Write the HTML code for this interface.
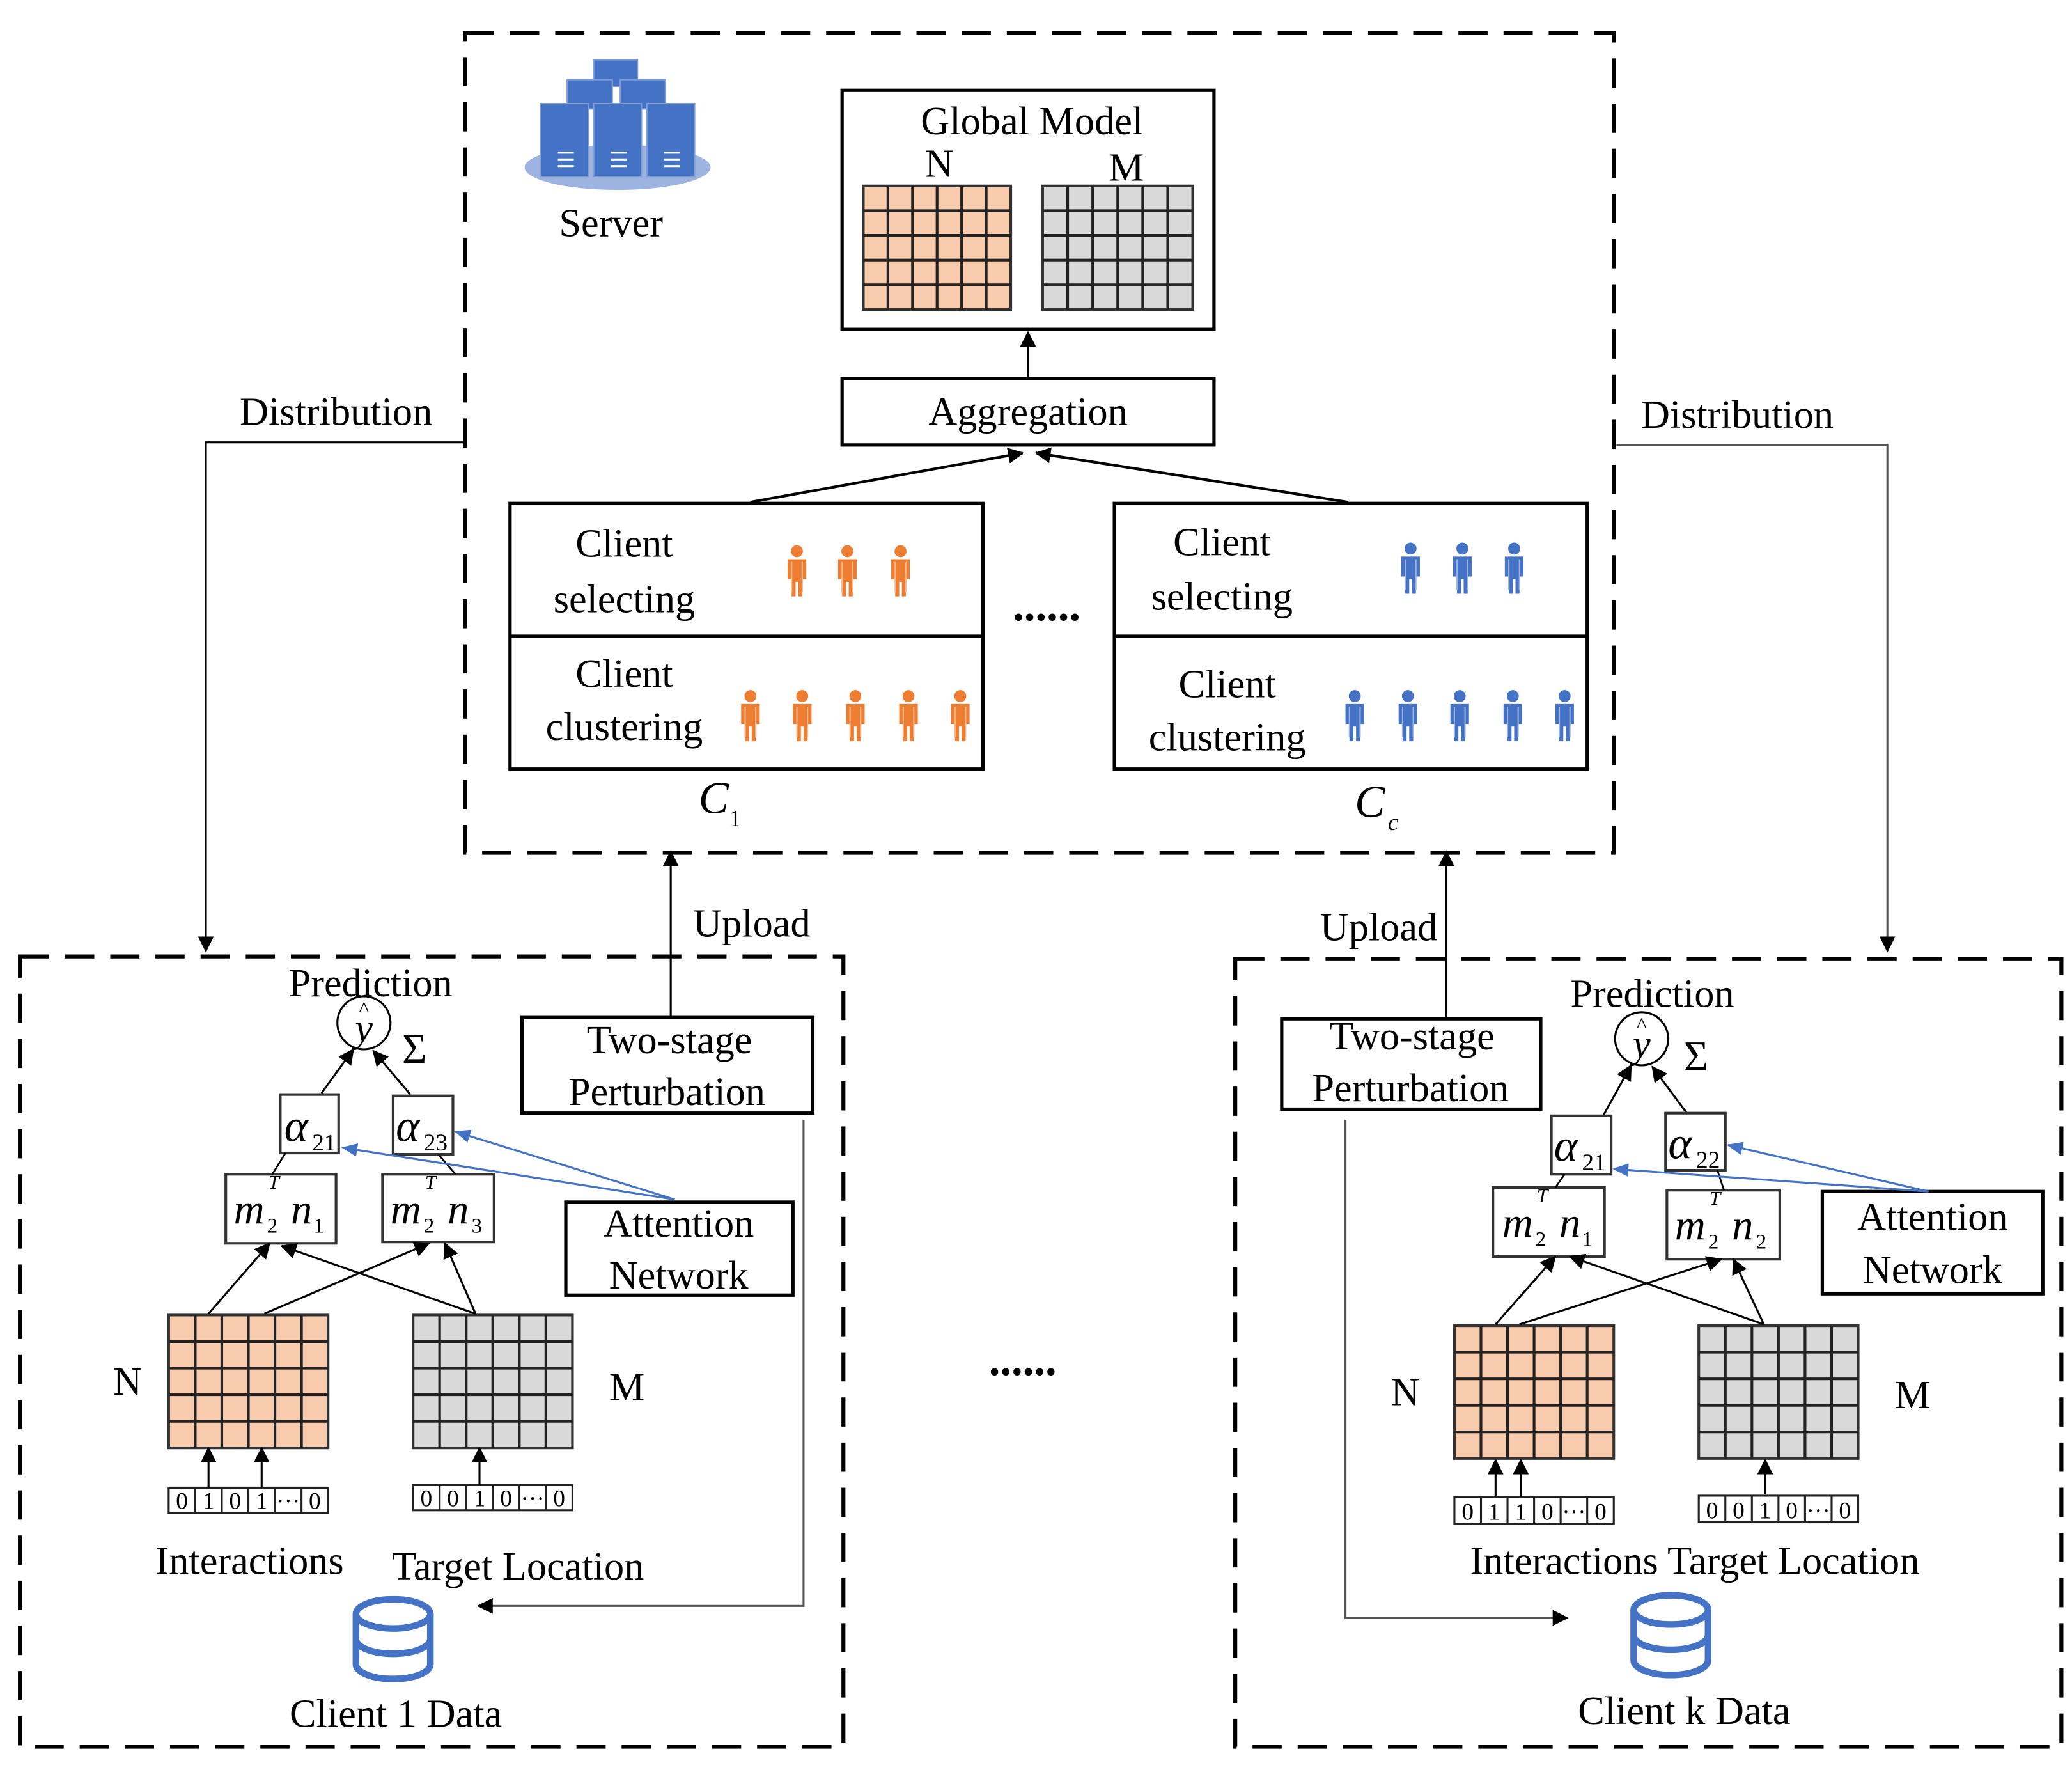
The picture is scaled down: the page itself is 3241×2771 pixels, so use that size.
<!DOCTYPE html>
<html><head><meta charset="utf-8">
<style>
html,body{margin:0;padding:0;background:#fff;}
svg{display:block;}
text{font-family:"Liberation Serif",serif;fill:#000;}
</style></head>
<body>
<svg id="s" width="3241" height="2771" viewBox="0 0 1560 1334" preserveAspectRatio="none" xmlns="http://www.w3.org/2000/svg">
<defs>
<marker id="ak" markerWidth="10" markerHeight="10" refX="9" refY="5" orient="auto" markerUnits="userSpaceOnUse"><path d="M0,0 L10,5 L0,10 Z" fill="#000"/></marker>
<marker id="ab" markerWidth="12" markerHeight="10" refX="11" refY="5" orient="auto" markerUnits="userSpaceOnUse"><path d="M0,0 L12,5 L0,10 Z" fill="#4472C4"/></marker>
<marker id="ag" markerWidth="12" markerHeight="12" refX="11" refY="6" orient="auto" markerUnits="userSpaceOnUse"><path d="M0,0 L12,6 L0,12 Z" fill="#000"/></marker>
<g id="pO"><circle cx="0" cy="-17" r="4.5" fill="#ED7D31"/><path d="M-7,-11 H7 V4 H4 V17 H1 V6 H-1 V17 H-4 V4 H-7 Z" fill="#ED7D31"/><path d="M-4,-9 V14 M4,-9 V14" stroke="#f6b98f" stroke-width="1"/></g>
<g id="pB"><circle cx="0" cy="-17" r="4.5" fill="#4472C4"/><path d="M-7,-11 H7 V4 H4 V17 H1 V6 H-1 V17 H-4 V4 H-7 Z" fill="#4472C4"/><path d="M-4,-9 V14 M4,-9 V14" stroke="#9db4e0" stroke-width="1"/></g>
</defs>

<g fill="none" stroke="#000" stroke-width="3" stroke-dasharray="22 12">
<rect x="350" y="25" width="865" height="617"/>
<rect x="15" y="720" width="620" height="595"/>
<rect x="930" y="722" width="622" height="593"/>
</g>

<!-- server icon -->
<ellipse cx="465" cy="126" rx="70" ry="17" fill="#9db4e0"/>
<g fill="#4472C4" stroke="#7f9fd6" stroke-width="1">
<rect x="447" y="45" width="33" height="20"/>
<rect x="427" y="60" width="34" height="22"/><rect x="467" y="60" width="34" height="22"/>
<rect x="407" y="78" width="36" height="55"/><rect x="447" y="78" width="36" height="55"/><rect x="487" y="78" width="36" height="55"/>
</g>
<g stroke="#fff" stroke-width="1.5">
<path d="M420,115 h12 M420,120 h12 M420,125 h12 M460,115 h12 M460,120 h12 M460,125 h12 M500,115 h12 M500,120 h12 M500,125 h12"/>
</g>
<text x="460" y="178" font-size="30" text-anchor="middle">Server</text>

<rect x="634" y="68" width="280" height="180" fill="none" stroke="#000" stroke-width="2.5"/>
<text x="777" y="101" font-size="30" text-anchor="middle">Global Model</text>
<text x="707" y="133" font-size="30" text-anchor="middle">N</text>
<text x="848" y="136" font-size="30" text-anchor="middle">M</text>
<g id="grids"></g>

<line x1="774" y1="285" x2="774" y2="250" stroke="#000" stroke-width="1.5" marker-end="url(#ag)"/>
<rect x="634" y="285" width="280" height="50" fill="none" stroke="#000" stroke-width="2.5"/>
<text x="774" y="320" font-size="30" text-anchor="middle">Aggregation</text>
<line x1="565" y1="378" x2="770" y2="341" stroke="#000" stroke-width="2" marker-end="url(#ag)"/>
<line x1="1015" y1="378" x2="780" y2="341" stroke="#000" stroke-width="2" marker-end="url(#ag)"/>

<g fill="none" stroke="#000" stroke-width="2.5">
<rect x="384" y="379" width="356" height="200"/><line x1="384" y1="479" x2="740" y2="479"/>
<rect x="839" y="379" width="356" height="200"/><line x1="839" y1="479" x2="1195" y2="479"/>
</g>
<g font-size="30" text-anchor="middle">
<text x="470" y="419">Client</text><text x="470" y="461">selecting</text>
<text x="470" y="517">Client</text><text x="470" y="557">clustering</text>
<text x="920" y="418">Client</text><text x="920" y="459">selecting</text>
<text x="924" y="525">Client</text><text x="924" y="565">clustering</text>
</g>
<use href="#pO" x="600" y="432"/><use href="#pO" x="638" y="432"/><use href="#pO" x="678" y="432"/>
<use href="#pO" x="565" y="541"/><use href="#pO" x="604" y="541"/><use href="#pO" x="644" y="541"/><use href="#pO" x="684" y="541"/><use href="#pO" x="723" y="541"/>
<use href="#pB" x="1062" y="430"/><use href="#pB" x="1101" y="430"/><use href="#pB" x="1140" y="430"/>
<use href="#pB" x="1020" y="541"/><use href="#pB" x="1060" y="541"/><use href="#pB" x="1099" y="541"/><use href="#pB" x="1139" y="541"/><use href="#pB" x="1178" y="541"/>
<text x="788" y="467" font-size="34" text-anchor="middle" font-weight="bold">......</text>
<text x="526" y="612" font-size="34" font-style="italic">C</text><text x="549" y="622" font-size="18">1</text>
<text x="1020" y="615" font-size="34" font-style="italic">C</text><text x="1045" y="625" font-size="18" font-style="italic">c</text>

<!-- distribution -->
<text x="253" y="320" font-size="30" text-anchor="middle">Distribution</text>
<polyline points="350,333 155,333 155,716" fill="none" stroke="#000" stroke-width="1.5" marker-end="url(#ag)"/>
<text x="1308" y="322" font-size="30" text-anchor="middle">Distribution</text>
<polyline points="1217,335 1421,335 1421,716" fill="none" stroke="#555" stroke-width="1.5" marker-end="url(#ag)"/>
<!-- upload -->
<line x1="505" y1="766" x2="505" y2="641" stroke="#000" stroke-width="1.5" marker-end="url(#ag)"/>
<text x="566" y="705" font-size="30" text-anchor="middle">Upload</text>
<line x1="1089" y1="766" x2="1089" y2="641" stroke="#000" stroke-width="1.5" marker-end="url(#ag)"/>
<text x="1038" y="708" font-size="30" text-anchor="middle">Upload</text>

<text x="770" y="1035" font-size="34" text-anchor="middle" font-weight="bold">......</text>

<!-- LEFT CLIENT -->
<text x="279" y="750" font-size="30" text-anchor="middle">Prediction</text>
<circle cx="274" cy="770" r="20" fill="none" stroke="#000" stroke-width="1.5"/>
<text x="274" y="784" font-size="30" font-style="italic" text-anchor="middle">y</text><text x="274" y="765" font-size="16" text-anchor="middle">^</text>
<text x="312" y="800" font-size="32" text-anchor="middle">Σ</text>
<line x1="242" y1="823" x2="266" y2="790" stroke="#000" stroke-width="1.5" marker-end="url(#ag)"/>
<line x1="309" y1="824" x2="281" y2="791" stroke="#000" stroke-width="1.5" marker-end="url(#ag)"/>
<g fill="none" stroke="#333" stroke-width="2">
<rect x="211" y="824" width="44" height="44"/><rect x="296" y="825" width="45" height="44"/>
<rect x="170" y="884" width="83" height="52"/><rect x="288" y="884" width="84" height="51"/>
<rect x="426" y="905" width="171" height="70" stroke="#000" stroke-width="2.5"/>
<rect x="393" y="766" width="219" height="72" stroke="#000" stroke-width="2.5"/>
</g>
<line x1="215" y1="868" x2="205" y2="884" stroke="#000" stroke-width="1.3"/>
<line x1="330" y1="869" x2="343" y2="884" stroke="#000" stroke-width="1.3"/>
<g font-style="italic">
<text x="214" y="859" font-size="34">α</text><text x="235" y="866" font-size="18" font-style="normal">21</text>
<text x="298" y="859" font-size="34">α</text><text x="319" y="866" font-size="18" font-style="normal">23</text>
<text x="176" y="921" font-size="32">m</text><text x="202" y="895" font-size="15">T</text><text x="201" y="928" font-size="16" font-style="normal">2</text><text x="219" y="921" font-size="32">n</text><text x="236" y="928" font-size="16" font-style="normal">1</text>
<text x="294" y="921" font-size="32">m</text><text x="320" y="895" font-size="15">T</text><text x="319" y="928" font-size="16" font-style="normal">2</text><text x="337" y="921" font-size="32">n</text><text x="355" y="928" font-size="16" font-style="normal">3</text>
</g>
<text x="511" y="931" font-size="30" text-anchor="middle">Attention</text>
<text x="511" y="970" font-size="30" text-anchor="middle">Network</text>
<text x="504" y="793" font-size="30" text-anchor="middle">Two-stage</text>
<text x="502" y="832" font-size="30" text-anchor="middle">Perturbation</text>
<line x1="508" y1="903" x2="343" y2="852" stroke="#4472C4" stroke-width="1.5" marker-end="url(#ab)"/>
<line x1="508" y1="903" x2="258" y2="864" stroke="#4472C4" stroke-width="1.5" marker-end="url(#ab)"/>
<g stroke="#000" stroke-width="1.5">
<line x1="157" y1="989" x2="203" y2="936" marker-end="url(#ag)"/>
<line x1="199" y1="989" x2="323" y2="936" marker-end="url(#ag)"/>
<line x1="358" y1="989" x2="212" y2="938" marker-end="url(#ag)"/>
<line x1="358" y1="989" x2="335" y2="936" marker-end="url(#ag)"/>
<line x1="157" y1="1120" x2="157" y2="1090" marker-end="url(#ag)"/>
<line x1="197" y1="1120" x2="197" y2="1090" marker-end="url(#ag)"/>
<line x1="361" y1="1118" x2="361" y2="1090" marker-end="url(#ag)"/>
</g>
<text x="96" y="1050" font-size="30" text-anchor="middle">N</text>
<text x="472" y="1054" font-size="30" text-anchor="middle">M</text>
<text x="188" y="1185" font-size="30" text-anchor="middle">Interactions</text>
<text x="390" y="1189" font-size="30" text-anchor="middle">Target Location</text>
<polyline points="605,843 605,1209 360,1209" fill="none" stroke="#555" stroke-width="1.5" marker-end="url(#ag)"/>
<g fill="none" stroke="#4472C4" stroke-width="5">
<ellipse cx="296" cy="1215" rx="28" ry="11"/>
<path d="M268,1215 V1253 A28,11 0 0 0 324,1253 V1215 M268,1234 A28,11 0 0 0 324,1234"/>
</g>
<text x="298" y="1300" font-size="30" text-anchor="middle">Client 1 Data</text>

<!-- RIGHT CLIENT -->
<text x="1244" y="758" font-size="30" text-anchor="middle">Prediction</text>
<circle cx="1236" cy="782" r="20" fill="none" stroke="#000" stroke-width="1.5"/>
<text x="1236" y="796" font-size="30" font-style="italic" text-anchor="middle">y</text><text x="1236" y="777" font-size="16" text-anchor="middle">^</text>
<text x="1277" y="806" font-size="32" text-anchor="middle">Σ</text>
<line x1="1207" y1="840" x2="1228" y2="802" stroke="#000" stroke-width="1.5" marker-end="url(#ag)"/>
<line x1="1270" y1="838" x2="1244" y2="803" stroke="#000" stroke-width="1.5" marker-end="url(#ag)"/>
<g fill="none" stroke="#333" stroke-width="2">
<rect x="1168" y="840" width="45" height="44"/><rect x="1254" y="838" width="45" height="43"/>
<rect x="1124" y="894" width="84" height="52"/><rect x="1255" y="896" width="85" height="52"/>
<rect x="1372" y="897" width="166" height="77" stroke="#000" stroke-width="2.5"/>
<rect x="965" y="767" width="195" height="68" stroke="#000" stroke-width="2.5"/>
</g>
<line x1="1178" y1="884" x2="1171" y2="894" stroke="#000" stroke-width="1.3"/>
<line x1="1293" y1="881" x2="1298" y2="896" stroke="#000" stroke-width="1.3"/>
<g font-style="italic">
<text x="1170" y="874" font-size="34">α</text><text x="1191" y="881" font-size="18" font-style="normal">21</text>
<text x="1256" y="872" font-size="34">α</text><text x="1277" y="879" font-size="18" font-style="normal">22</text>
<text x="1131" y="931" font-size="32">m</text><text x="1157" y="905" font-size="15">T</text><text x="1156" y="938" font-size="16" font-style="normal">2</text><text x="1174" y="931" font-size="32">n</text><text x="1191" y="938" font-size="16" font-style="normal">1</text>
<text x="1261" y="933" font-size="32">m</text><text x="1287" y="907" font-size="15">T</text><text x="1286" y="940" font-size="16" font-style="normal">2</text><text x="1304" y="933" font-size="32">n</text><text x="1322" y="940" font-size="16" font-style="normal">2</text>
</g>
<text x="1455" y="926" font-size="30" text-anchor="middle">Attention</text>
<text x="1455" y="966" font-size="30" text-anchor="middle">Network</text>
<text x="1063" y="790" font-size="30" text-anchor="middle">Two-stage</text>
<text x="1062" y="829" font-size="30" text-anchor="middle">Perturbation</text>
<line x1="1452" y1="897" x2="1301" y2="862" stroke="#4472C4" stroke-width="1.5" marker-end="url(#ab)"/>
<line x1="1452" y1="897" x2="1215" y2="880" stroke="#4472C4" stroke-width="1.5" marker-end="url(#ab)"/>
<g stroke="#000" stroke-width="1.5">
<line x1="1126" y1="997" x2="1171" y2="946" marker-end="url(#ag)"/>
<line x1="1144" y1="997" x2="1296" y2="948" marker-end="url(#ag)"/>
<line x1="1328" y1="997" x2="1182" y2="946" marker-end="url(#ag)"/>
<line x1="1328" y1="997" x2="1305" y2="948" marker-end="url(#ag)"/>
<line x1="1126" y1="1126" x2="1126" y2="1099" marker-end="url(#ag)"/>
<line x1="1145" y1="1126" x2="1145" y2="1099" marker-end="url(#ag)"/>
<line x1="1329" y1="1125" x2="1329" y2="1099" marker-end="url(#ag)"/>
</g>
<text x="1058" y="1058" font-size="30" text-anchor="middle">N</text>
<text x="1440" y="1060" font-size="30" text-anchor="middle">M</text>
<text x="1276" y="1185" font-size="30" text-anchor="middle">Interactions Target Location</text>
<polyline points="1013,843 1013,1218 1180,1218" fill="none" stroke="#555" stroke-width="1.5" marker-end="url(#ag)"/>
<g fill="none" stroke="#4472C4" stroke-width="5">
<ellipse cx="1258" cy="1212" rx="28" ry="11"/>
<path d="M1230,1212 V1250 A28,11 0 0 0 1286,1250 V1212 M1230,1231 A28,11 0 0 0 1286,1231"/>
</g>
<text x="1268" y="1298" font-size="30" text-anchor="middle">Client k Data</text>
</svg>
<script>
(function(){
var NS="http://www.w3.org/2000/svg",g=document.getElementById("grids");
function el(t,a){var e=document.createElementNS(NS,t);for(var k in a)e.setAttribute(k,a[k]);g.appendChild(e);return e;}
function grid(x,y,w,h,fill){
 el("rect",{x:x,y:y,width:w,height:h,fill:fill,stroke:"#333","stroke-width":2});
 var d="";for(var i=1;i<6;i++){var xx=x+w*i/6;d+="M"+xx+","+y+"V"+(y+h);}
 for(var j=1;j<5;j++){var yy=y+h*j/5;d+="M"+x+","+yy+"H"+(x+w);}
 el("path",{d:d,stroke:"#222","stroke-width":2,fill:"none"});
}
grid(650,140,111,93,"#F8CBAD");grid(785,140,113,93,"#D9D9D9");
grid(127,990,120,100,"#F8CBAD");grid(311,990,120,100,"#D9D9D9");
grid(1095,998,120,100,"#F8CBAD");grid(1279,998,120,100,"#D9D9D9");
function vec(x,y,w,h,vals){
 el("rect",{x:x,y:y,width:w,height:h,fill:"#fff",stroke:"#222","stroke-width":1.5});
 var cw=w/6;
 for(var i=0;i<6;i++){ if(i>0)el("line",{x1:x+cw*i,y1:y,x2:x+cw*i,y2:y+h,stroke:"#222","stroke-width":1.5});
  var t=el("text",{x:x+cw*i+cw/2,y:y+h-3,"font-size":18,"text-anchor":"middle"});t.textContent=vals[i];}
}
vec(127,1120,120,19,["0","1","0","1","···","0"]);
vec(311,1118,120,19,["0","0","1","0","···","0"]);
vec(1095,1127,120,20,["0","1","1","0","···","0"]);
vec(1279,1126,120,20,["0","0","1","0","···","0"]);
})();
</script>
</body></html>
